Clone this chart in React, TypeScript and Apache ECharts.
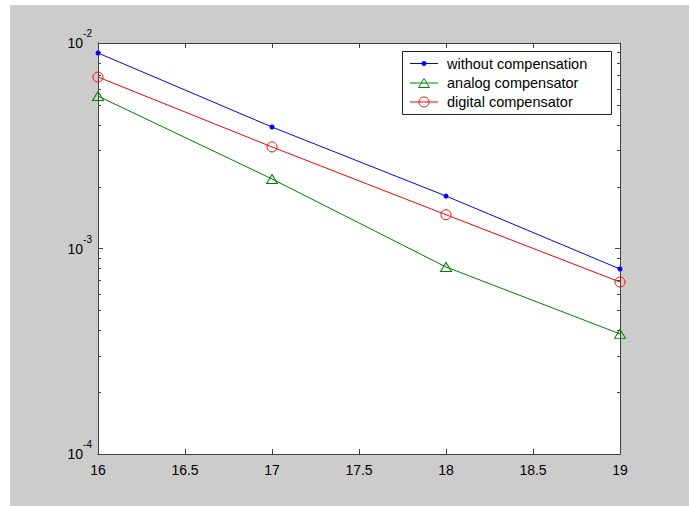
import React, { useEffect, useRef } from "react";
import * as echarts from "echarts";

const xValues = [16, 17, 18, 19];
const withoutComp = [0.00894, 0.0039, 0.0018, 0.000795];
const analogComp = [0.00552, 0.00218, 0.000813, 0.000384];
const digitalComp = [0.00683, 0.00312, 0.00146, 0.000687];
const seriesNames = ["without compensation", "analog compensator", "digital compensator"];
const seriesColors = ["#0000ff", "#008000", "#ff0000"];
const decades = [1e-4, 1e-3];
const minorMultipliers = [2, 3, 4, 5, 6, 7, 8, 9];

const FONT = "'Liberation Sans', Arial, Helvetica, sans-serif";
const AXIS_COLOR = "#404040";
const HOLLOW = "rgba(255,255,255,0)";

export default function App() {
  const ref = useRef<HTMLDivElement>(null);
  useEffect(() => {
    if (!ref.current) return;
    const chart = echarts.init(ref.current, undefined, { renderer: "svg" });
    const minorTicks: number[][] = [];
    decades.forEach((d) => minorMultipliers.forEach((m) => minorTicks.push([16, d * m])));
    const pair = (vals: number[]) => xValues.map((x, i) => [x, vals[i]]);
    const yLabel = (v: number) => {
      const e = Math.round(Math.log10(v));
      return `{b|10}{s|${e}}`;
    };
    const rich = {
      b: { fontSize: 14, fontFamily: FONT, color: "#000", lineHeight: 14 },
      s: { fontSize: 10, fontFamily: FONT, color: "#000", lineHeight: 10, padding: [0, 0, 19, 0] },
    };

    // Legend drawn with graphic elements (box, line samples, markers, texts)
    const lgLeft = 402.5;
    const lgTop = 51.5;
    const lgW = 209;
    const lgH = 63;
    const rowY = [63.5, 83, 102];
    const lineX1 = 410;
    const lineX2 = 438;
    const mx = 424;
    const textX = 447;
    const legendChildren: any[] = [
      {
        type: "rect",
        shape: { x: lgLeft, y: lgTop, width: lgW, height: lgH },
        style: { fill: "#ffffff", stroke: "#222222", lineWidth: 1 },
      },
    ];
    seriesNames.forEach((name, i) => {
      const y = rowY[i];
      legendChildren.push({
        type: "line",
        shape: { x1: lineX1, y1: y, x2: lineX2, y2: y },
        style: { stroke: seriesColors[i], lineWidth: 1 },
      });
      if (i === 0) {
        legendChildren.push({
          type: "circle",
          shape: { cx: mx, cy: y, r: 2.5 },
          style: { fill: seriesColors[i] },
        });
      } else if (i === 1) {
        legendChildren.push({
          type: "polygon",
          shape: { points: [[mx - 5.5, y + 4.5], [mx + 5.5, y + 4.5], [mx, y - 4.5]] },
          style: { fill: HOLLOW, stroke: seriesColors[i], lineWidth: 1 },
        });
      } else {
        legendChildren.push({
          type: "circle",
          shape: { cx: mx, cy: y, r: 5 },
          style: { fill: HOLLOW, stroke: seriesColors[i], lineWidth: 1 },
        });
      }
      legendChildren.push({
        type: "text",
        x: textX,
        y: y,
        style: {
          text: name,
          fontSize: 14.5,
          fontFamily: FONT,
          fill: "#000000",
          verticalAlign: "middle",
          align: "left",
        },
      });
    });

    chart.setOption({
      animation: false,
      backgroundColor: "transparent",
      textStyle: { fontFamily: FONT },
      grid: {
        left: 98,
        right: 69,
        top: 43,
        bottom: 52,
        show: true,
        backgroundColor: "#ffffff",
        borderWidth: 0,
      },
      graphic: [{ type: "group", z: 100, children: legendChildren }],
      xAxis: [
        {
          type: "value",
          min: 16,
          max: 19,
          interval: 0.5,
          position: "bottom",
          axisLine: { show: true, onZero: false, lineStyle: { color: AXIS_COLOR, width: 1 } },
          axisTick: { show: true, inside: true, length: 5, lineStyle: { color: AXIS_COLOR } },
          axisLabel: { fontSize: 14, fontFamily: FONT, color: "#000", margin: 9 },
          splitLine: { show: false },
        },
        {
          type: "value",
          min: 16,
          max: 19,
          interval: 0.5,
          position: "top",
          axisLine: { show: true, onZero: false, lineStyle: { color: AXIS_COLOR, width: 1 } },
          axisTick: { show: true, inside: true, length: 5, lineStyle: { color: AXIS_COLOR } },
          axisLabel: { show: false },
          splitLine: { show: false },
        },
      ],
      yAxis: [
        {
          type: "log",
          logBase: 10,
          min: 1e-4,
          max: 1e-2,
          position: "left",
          axisLine: { show: true, onZero: false, lineStyle: { color: AXIS_COLOR, width: 1 } },
          axisTick: { show: true, inside: true, length: 5, lineStyle: { color: AXIS_COLOR } },
          axisLabel: { formatter: yLabel, rich, margin: 6 },
          splitLine: { show: false },
        },
        {
          type: "log",
          logBase: 10,
          min: 1e-4,
          max: 1e-2,
          position: "right",
          axisLine: { show: true, onZero: false, lineStyle: { color: AXIS_COLOR, width: 1 } },
          axisTick: { show: true, inside: true, length: 5, lineStyle: { color: AXIS_COLOR } },
          axisLabel: { show: false },
          splitLine: { show: false },
        },
      ],
      series: [
        {
          type: "custom",
          name: "minorTicks",
          silent: true,
          xAxisIndex: 0,
          yAxisIndex: 0,
          data: minorTicks,
          renderItem: (params: any, api: any) => {
            const pt = api.coord([api.value(0), api.value(1)]);
            const cs = params.coordSys;
            const y = Math.round(pt[1]) + 0.5;
            return {
              type: "group",
              children: [
                { type: "line", shape: { x1: cs.x, y1: y, x2: cs.x + 3, y2: y }, style: { stroke: AXIS_COLOR, lineWidth: 1 } },
                { type: "line", shape: { x1: cs.x + cs.width - 3, y1: y, x2: cs.x + cs.width, y2: y }, style: { stroke: AXIS_COLOR, lineWidth: 1 } },
              ],
            };
          },
        },
        {
          type: "line",
          name: seriesNames[0],
          data: pair(withoutComp),
          symbol: "circle",
          symbolSize: 5,
          lineStyle: { color: seriesColors[0], width: 1 },
          itemStyle: { color: seriesColors[0] },
        },
        {
          type: "line",
          name: seriesNames[1],
          data: pair(analogComp),
          symbol: "triangle",
          symbolSize: [11, 9],
          lineStyle: { color: seriesColors[1], width: 1 },
          itemStyle: { color: HOLLOW, borderColor: seriesColors[1], borderWidth: 1 },
        },
        {
          type: "line",
          name: seriesNames[2],
          data: pair(digitalComp),
          symbol: "circle",
          symbolSize: 10,
          lineStyle: { color: seriesColors[2], width: 1 },
          itemStyle: { color: HOLLOW, borderColor: seriesColors[2], borderWidth: 1 },
        },
      ],
    });
    return () => chart.dispose();
  }, []);
  return (
    <div style={{ position: "absolute", left: 0, top: 0, width: 689, height: 506, background: "#ffffff" }}>
      <div style={{ position: "absolute", left: 10, top: 5, width: 679, height: 501, background: "#cccccc" }} />
      <div ref={ref} style={{ position: "absolute", left: 0, top: 0, width: 689, height: 506 }} />
    </div>
  );
}
